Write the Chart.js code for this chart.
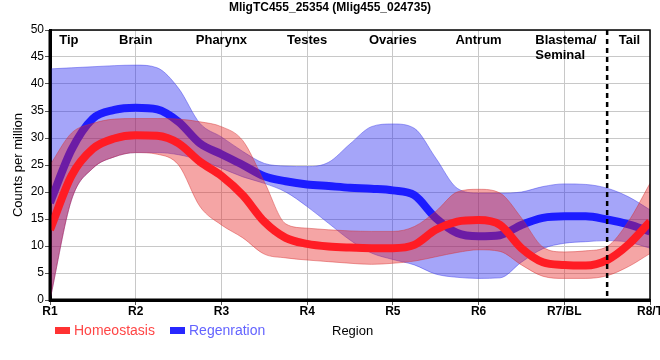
<!DOCTYPE html>
<html>
<head>
<meta charset="utf-8">
<script src="https://cdn.jsdelivr.net/npm/chart.js@4.4.1/dist/chart.umd.min.js"></script>
<style>
  html, body { margin: 0; padding: 0; background: #fff; }
</style>
</head>
<body>
<canvas id="regionChart" width="660" height="360"></canvas>
<script>
// positions along the body, in region units (R1 = 1 ... R8 = 8)
const xPos = [1, 1.25, 1.5, 1.75, 2, 2.25, 2.5, 2.75, 3, 3.25, 3.5, 3.75, 4, 4.25, 4.5, 4.75,
  5, 5.25, 5.5, 5.75, 6, 6.25, 6.5, 6.75, 7, 7.25, 7.5, 7.75, 8];

// Homeostasis (red)
const homeo = [13, 23, 28, 29.9, 30.5, 30.4, 29, 25.6, 23, 19.4, 14.5, 11.5, 10.4, 9.9, 9.7, 9.6,
  9.6, 10.2, 13, 14.5, 14.8, 13.9, 9.6, 7, 6.5, 6.4, 7.4, 10.3, 14.5];
const homeoUpper = [25, 30.9, 32.7, 33.5, 33.6, 33.6, 33.5, 33, 32.1, 29.5, 21.9, 14.1, 13.3, 13, 12.8, 12.7,
  12.7, 13.6, 16.4, 20, 20.5, 19.8, 15.2, 9.8, 8.9, 9.1, 9.9, 14.6, 21.6];
const homeoLower = [0, 18.5, 24.4, 26.5, 27.3, 27, 25, 17.3, 13.9, 11.5, 8.5, 7.8, 7.4, 7.1, 6.8, 6.6,
  6.8, 7.2, 8, 8.8, 9.3, 9, 6.5, 4.4, 4, 4, 4.5, 6.2, 8.6];

// Regeneration (blue)
const regen = [18, 27.8, 33.6, 35.2, 35.6, 35.3, 33, 29, 27, 25, 22.9, 22, 21.4, 21.1, 20.8, 20.6,
  20.3, 19.4, 15.2, 12.4, 11.8, 12, 13.9, 15.2, 15.5, 15.5, 14.9, 14, 12.7];
const regenUpper = [42.8, 43, 43.2, 43.4, 43.5, 43, 39.2, 32.7, 30.2, 27.5, 25.3, 24.8, 24.7, 25.5, 28.9, 32.1,
  32.6, 31.8, 26.3, 20.7, 19.8, 19.8, 20, 21, 21.5, 21.4, 20.7, 19.1, 16.7];
const regenLower = [0, 18.5, 24.4, 26.5, 27.3, 27.3, 26.9, 25.9, 24.4, 22.8, 21.6, 20, 17.3, 14.2, 11.1, 8.7,
  7.5, 6.5, 4.8, 4.2, 4, 4.1, 7, 9.5, 10.5, 10.8, 11, 10.7, 9.6];

const tickLabels = ['R1', 'R2', 'R3', 'R4', 'R5', 'R6', 'R7/BL', 'R8/T'];
const regionNames = ['Tip', 'Brain', 'Pharynx', 'Testes', 'Ovaries', 'Antrum', 'Blastema/\nSeminal', 'Tail'];
const regionAt = [1.22, 2, 3, 4, 5, 6, 7.02, 7.76];
const cutAt = 7.5;

const FONT = '"Liberation Sans", Arial, sans-serif';
const pts = arr => xPos.map((x, i) => ({ x: x, y: arr[i] }));

const decor = {
  id: 'decor',
  afterDatasetsDraw(chart) {
    const ctx = chart.ctx, xs = chart.scales.x, area = chart.chartArea;
    ctx.save();
    // dashed divider
    const dx = xs.getPixelForValue(cutAt);
    ctx.strokeStyle = '#000';
    ctx.lineWidth = 2.5;
    ctx.setLineDash([5, 4]);
    ctx.beginPath();
    ctx.moveTo(dx, area.top);
    ctx.lineTo(dx, area.bottom);
    ctx.stroke();
    ctx.setLineDash([]);

    // region names
    ctx.fillStyle = '#000';
    ctx.font = 'bold 13px ' + FONT;
    ctx.textBaseline = 'middle';
    ctx.textAlign = 'left';
    regionNames.forEach((name, i) => {
      const lines = name.split('\n');
      const w = Math.max(...lines.map(l => ctx.measureText(l).width));
      const left = xs.getPixelForValue(regionAt[i]) - w / 2;
      lines.forEach((l, j) => ctx.fillText(l, left, area.top + 10 + j * 15));
    });

    // frame: thin top / right, heavy left / bottom axes on top of the bands
    ctx.lineWidth = 1.5;
    ctx.beginPath();
    ctx.moveTo(area.left, area.top);
    ctx.lineTo(area.right, area.top);
    ctx.lineTo(area.right, area.bottom);
    ctx.stroke();
    ctx.lineWidth = 3;
    ctx.beginPath();
    ctx.moveTo(area.left, area.top);
    ctx.lineTo(area.left, area.bottom);
    ctx.lineTo(area.right, area.bottom);
    ctx.stroke();
    ctx.restore();
  },
  afterDraw(chart) {
    const ctx = chart.ctx, xs = chart.scales.x;
    ctx.save();
    // title
    ctx.fillStyle = '#000';
    ctx.font = 'bold 12px ' + FONT;
    ctx.textAlign = 'center';
    ctx.textBaseline = 'middle';
    ctx.fillText('MligTC455_25354 (Mlig455_024735)', 330, 8);

    // x tick labels
    tickLabels.forEach((t, i) => ctx.fillText(t, xs.getPixelForValue(i + 1), 312));

    // x title
    ctx.font = '13px ' + FONT;
    ctx.textAlign = 'left';
    ctx.fillText('Region', 332, 331);

    // legend
    ctx.font = '14px ' + FONT;
    ctx.fillStyle = 'rgb(255,50,50)';
    ctx.fillRect(55, 327, 15, 7);
    ctx.fillStyle = 'rgb(255,70,70)';
    ctx.fillText('Homeostasis', 74, 331);
    ctx.fillStyle = 'rgb(40,40,255)';
    ctx.fillRect(170, 327, 15, 7);
    ctx.fillStyle = 'rgb(100,100,255)';
    ctx.fillText('Regenration', 189, 331);
    ctx.restore();
  }
};

const ctx = document.getElementById('regionChart').getContext('2d');
new Chart(ctx, {
  type: 'line',
  data: {
    datasets: [
      {
        label: 'Homeostasis',
        data: pts(homeo),
        borderColor: 'rgb(255,28,36)',
        borderWidth: 8,
        borderCapStyle: 'butt',
        fill: false,
        order: 1
      },
      {
        label: 'hUpper',
        data: pts(homeoUpper),
        borderColor: 'rgba(210,50,50,0.45)',
        backgroundColor: 'rgba(230,30,30,0.4)',
        borderWidth: 1,
        fill: '+1',
        order: 2
      },
      {
        label: 'hLower',
        data: pts(homeoLower),
        borderColor: 'rgba(210,50,50,0.45)',
        borderWidth: 1,
        fill: false,
        order: 2
      },
      {
        label: 'Regenration',
        data: pts(regen),
        borderColor: 'rgb(28,28,255)',
        borderWidth: 8,
        borderCapStyle: 'butt',
        fill: false,
        order: 3
      },
      {
        label: 'rUpper',
        data: pts(regenUpper),
        borderColor: 'rgba(60,60,230,0.45)',
        backgroundColor: 'rgba(30,30,240,0.4)',
        borderWidth: 1,
        fill: '+1',
        order: 4
      },
      {
        label: 'rLower',
        data: pts(regenLower),
        borderColor: 'rgba(60,60,230,0.45)',
        borderWidth: 1,
        fill: false,
        order: 4
      }
    ]
  },
  options: {
    responsive: false,
    animation: false,
    devicePixelRatio: 1,
    layout: { padding: { top: 30, right: 10, bottom: 60, left: 0 } },
    elements: {
      point: { radius: 0, hoverRadius: 0 },
      line: { cubicInterpolationMode: 'monotone' }
    },
    plugins: {
      legend: { display: false },
      tooltip: { enabled: false }
    },
    scales: {
      x: {
        type: 'linear',
        min: 1,
        max: 8,
        ticks: { stepSize: 1, display: false },
        grid: { color: '#c8c8c8', tickLength: 5, tickColor: '#555' },
        border: { color: '#000', width: 3 },
        afterFit(scale) { scale.height = 0; }
      },
      y: {
        min: 0,
        max: 50,
        ticks: { stepSize: 5, color: '#000', font: { size: 12, family: FONT }, padding: 1 },
        grid: { color: '#c8c8c8', tickLength: 5, tickColor: '#555' },
        border: { color: '#000', width: 3 },
        title: {
          display: true,
          text: 'Counts per million',
          color: '#000',
          font: { size: 13, family: FONT },
          padding: { top: 11, bottom: 0 }
        },
        afterFit(scale) { scale.width = 50; }
      }
    }
  },
  plugins: [decor]
});
</script>
</body>
</html>
